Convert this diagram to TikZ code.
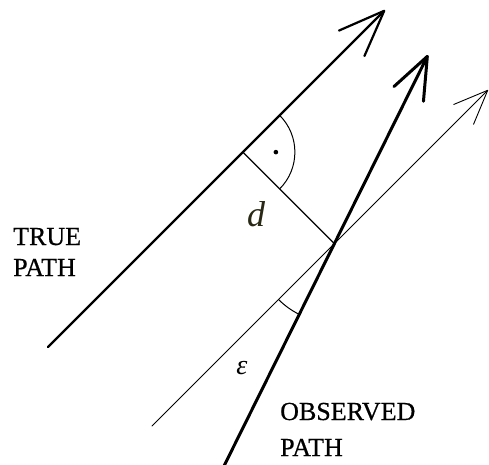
\documentclass[tikz,border=0pt]{standalone}
\usepackage{fontspec}
\setmainfont{Liberation Serif}
\usetikzlibrary{arrows.meta,calc}
\definecolor{dcol}{RGB}{40,40,20}
\begin{document}
\begin{tikzpicture}[x=1pt,y=-1pt,
  lbl/.style={font=\fontsize{26}{31}\selectfont\addfontfeatures{FakeBold=0.6}, inner sep=0pt, anchor=base west},
  truepath/.style={line width=2.2pt, line cap=round, -{Straight Barb[round,length=46pt,width=36pt]}},
  obspath/.style={line width=3pt, -{Straight Barb[round,length=42pt,width=33pt]}},
  refpath/.style={line width=0.9pt, line cap=round, -{Straight Barb[round,length=34pt,width=28pt]}},
  perp/.style={line width=1.2pt},
  anglearc/.style={line width=1pt}]
\useasboundingbox (0,0) rectangle (489,464);
% key points
\coordinate (T1) at (48,347);
\coordinate (T2) at (385,10);
\coordinate (O1) at (224,466);
\coordinate (O2) at (428,55);
\coordinate (R1) at (152,426);
\coordinate (R2) at (488,90);
\coordinate (I) at (intersection of O1--O2 and R1--R2);
\coordinate (F) at ($(T1)!(I)!(T2)$);
% paths
\draw[truepath] (T1) -- (T2);
\draw[refpath] (R1) -- (R2);
\draw[obspath] (O1) -- (O2);
% perpendicular distance
\draw[perp] (F) -- (I);
% right angle mark
\draw[anglearc] (F) ++(-45:52) arc[start angle=-45, end angle=45, radius=52];
\fill (F) ++(0:33) circle[radius=2.3];
% epsilon angle
\draw[anglearc] (I) ++(135:79) arc[start angle=135, end angle=116.4, radius=79];
% labels
\node[font=\fontsize{36}{36}\selectfont\itshape, text=dcol, inner sep=0pt] (d) at (256,214) {d};
\node[font=\fontsize{28}{28}\selectfont\itshape, inner sep=0pt] (eps) at (242,368) {ε};
\node[lbl] (true1) at (13,245) {TRUE};
\node[lbl] (true2) at (13,276) {PATH};
\node[lbl] (obs1) at (280,420) {OBSERVED};
\node[lbl] (obs2) at (280,456) {PATH};
\end{tikzpicture}
\end{document}
